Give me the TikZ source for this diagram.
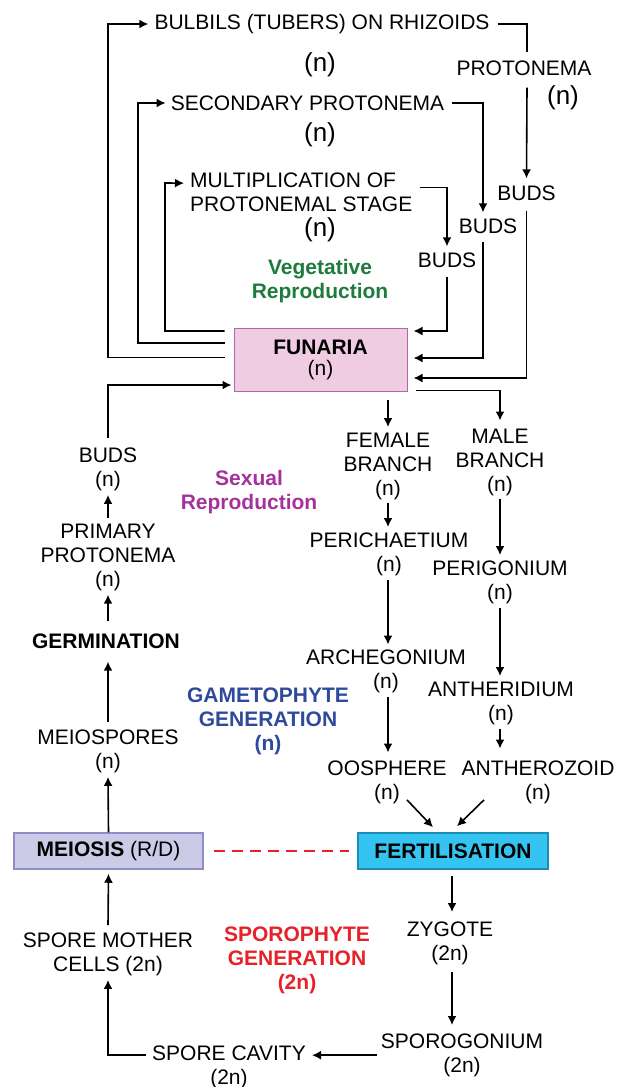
\documentclass[tikz,border=0pt]{standalone}
\usepackage{fontspec}
\setmainfont{Liberation Sans}
\usetikzlibrary{arrows.meta,calc}
\definecolor{veggreen}{HTML}{1E7B3E}
\definecolor{sexpurple}{HTML}{A5329C}
\definecolor{gameblue}{HTML}{2E4A9A}
\definecolor{sporored}{HTML}{E52229}
\definecolor{funfill}{HTML}{F0CCE2}
\definecolor{fundraw}{HTML}{B862AE}
\definecolor{meifill}{HTML}{CBCAE7}
\definecolor{meidraw}{HTML}{8F8CC6}
\definecolor{fertfill}{HTML}{35C4F1}
\definecolor{fertdraw}{HTML}{1A8DB4}
\begin{document}
\begin{tikzpicture}[x=1pt,y=-1pt,
  txt/.style={font=\fontsize{21}{24}\selectfont, align=center, inner sep=0pt},
  bign/.style={font=\fontsize{26}{28}\selectfont, inner sep=0pt},
  lbl/.style={font=\fontsize{21}{24}\selectfont\bfseries, align=center, inner sep=0pt},
  box/.style={draw, line width=1.5pt, inner sep=0pt, align=center, font=\fontsize{21}{21}\selectfont},
  arr/.style={line width=1.6pt, -{Latex[length=9pt,width=9pt]}},
  ln/.style={line width=1.6pt}
]
\path[use as bounding box] (0,0) rectangle (623,1087);

% ---- central plant ----
\node[box, fill=funfill, draw=fundraw, line width=1pt, minimum width=173pt, minimum height=63pt]
  (funaria) at (320.5,359.5) {\textbf{FUNARIA}\\(n)};

% ---- vegetative reproduction ----
\node[txt] (bulbils) at (322,24) {BULBILS (TUBERS) ON RHIZOIDS};
\node[bign] (nb) at (320,65) {(n)};
\node[txt] (proto) at (524,68) {PROTONEMA};
\node[bign] (np) at (563,98) {(n)};
\node[txt] (budsR) at (526.5,193) {BUDS};

\node[txt] (second) at (307.5,103) {SECONDARY PROTONEMA};
\node[bign] (ns) at (320,135) {(n)};
\node[txt] (budsM) at (488,226) {BUDS};

\node[txt, align=left, anchor=north west] (mult) at (190,172.5) {MULTIPLICATION OF\\PROTONEMAL STAGE};
\node[bign] (nm) at (320,230) {(n)};
\node[txt] (budsL) at (447,260) {BUDS};

\node[lbl, text=veggreen, anchor=north] (veg) at (320,259.5) {Vegetative\\Reproduction};

\coordinate (cB) at (108,24);
\coordinate (cS) at (138,103);
\coordinate (cM) at (165,183);

\draw[arr] ([shift={(-9,-2)}]funaria.west) -| (cB) -- ([xshift=-6]bulbils.west);
\draw[ln] ([xshift=8]bulbils.east) -| ([shift={(3,-8)}]proto.north);
\draw[arr] ([shift={(3,12)}]proto.south) -- ([shift={(0,-7)}]budsR.north);
\draw[arr] ([shift={(0,10)}]budsR.south) |- ([shift={(6,18.5)}]funaria.east);

\draw[arr] ([shift={(-9,-16.5)}]funaria.west) -| (cS) -- ([xshift=-5]second.west);
\draw[arr] ([xshift=8]second.east) -| ([shift={(-5,-6)}]budsM.north);
\draw[arr] ([shift={(-5,8)}]budsM.south) |- ([shift={(6,-1.5)}]funaria.east);

\draw[arr] ([shift={(-9,-28.5)}]funaria.west) -| (cM) -- ([shift={(-6,-9)}]mult.west);
\draw[arr] ([shift={(7,-4.5)}]mult.east) -| ([shift={(0,-6)}]budsL.north);
\draw[arr] ([shift={(0,9)}]budsL.south) |- ([shift={(6,-28.5)}]funaria.east);

% ---- sexual reproduction: female line ----
\node[txt, anchor=north] (female) at (388,432.5) {FEMALE\\BRANCH\\(n)};
\node[txt, anchor=north] (peri) at (389,532.5) {PERICHAETIUM\\(n)};
\node[txt, anchor=north] (arche) at (386,649.5) {ARCHEGONIUM\\(n)};
\node[txt, anchor=north] (oosph) at (387,760.5) {OOSPHERE\\(n)};

% ---- male line ----
\node[txt, anchor=north] (male) at (500,428.5) {MALE\\BRANCH\\(n)};
\node[txt, anchor=north] (perig) at (500,560.5) {PERIGONIUM\\(n)};
\node[txt, anchor=north] (anther) at (501,681.5) {ANTHERIDIUM\\(n)};
\node[txt, anchor=north] (antz) at (538,760.5) {ANTHEROZOID\\(n)};

\draw[arr] ([shift={(67.5,8)}]funaria.south) -- ([shift={(0,-5.5)}]female.north);
\draw[arr] ([shift={(8,-1)}]funaria.south east) -| ([shift={(0,-8)}]male.north);
\draw[arr] ([shift={(0,3)}]female.south) -- ($(female.south |- peri.north)+(0,-5.5)$);
\draw[arr] ([shift={(-1,4)}]peri.south) -- ($(peri.south |- arche.north)+(-1,-5)$);
\draw[arr] ([shift={(2,4)}]arche.south) -- ($(arche.south |- oosph.north)+(2,-8)$);
\draw[arr] ([shift={(0,3)}]male.south) -- ([shift={(0,-5.5)}]perig.north);
\draw[arr] ([shift={(0,4)}]perig.south) -- ($(perig.north |- anther.north)+(0,-5.5)$);
\draw[arr] ([shift={(-1,4)}]anther.south) -- ($(anther.south |- antz.north)+(-1,-12)$);

% ---- fertilisation and meiosis ----
\node[box, fill=fertfill, draw=fertdraw, minimum width=190pt, minimum height=36pt, font=\fontsize{21}{21}\selectfont\bfseries]
  (fert) at (453,851) {FERTILISATION};
\node[box, fill=meifill, draw=meidraw, minimum width=189pt, minimum height=36pt]
  (meiosis) at (108.5,851) {\textbf{MEIOSIS} (R/D)};
\draw[sporored, line width=2.8pt, dash pattern=on 11pt off 7pt] ([xshift=10]meiosis.east) -- ([xshift=-8]fert.west);

\draw[arr] ([shift={(20,-4)}]oosph.south) -- ([shift={(-20,-5)}]fert.north);
\draw[arr] ([shift={(-54,-4)}]antz.south) -- ([shift={(4,-6)}]fert.north);

% ---- sporophyte ----
\node[txt, anchor=north] (zyg) at (450,921.5) {ZYGOTE\\(2n)};
\node[txt, anchor=north] (sporog) at (462,1033.5) {SPOROGONIUM\\(2n)};
\node[txt, anchor=north] (spcav) at (229,1045.5) {SPORE CAVITY\\(2n)};
\node[txt, anchor=north] (sporem) at (108,932.5) {SPORE MOTHER\\CELLS (2n)};

\draw[arr] ([shift={(-1,6)}]fert.south) -- ($(fert.south |- zyg.north)+(-1,-9.5)$);
\draw[arr] ([shift={(2,7)}]zyg.south) -- ($(zyg.south |- sporog.north)+(2,-8.5)$);
\draw[arr] ([xshift=-4]sporog.west) -- ($(sporog.west -| spcav.east)+(6,0)$);
\draw[arr] ($(spcav.west |- sporog.west)+(-6,0)$) -| ([shift={(0,4)}]sporem.south);
\draw[arr] ([shift={(0,-7.5)}]sporem.north) -- ([shift={(0,4)}]meiosis.south);

% ---- gametophyte from meiospores ----
\node[txt, anchor=north] (meiosp) at (108,729.5) {MEIOSPORES\\(n)};
\node[lbl] (germ) at (106,641) {GERMINATION};
\node[txt, anchor=north] (prim) at (108,523.5) {PRIMARY\\PROTONEMA\\(n)};
\node[txt, anchor=north] (budsB) at (108,447.5) {BUDS\\(n)};

\draw[arr] (meiosis.north) -- ([shift={(0,4)}]meiosp.south);
\draw[arr] ([shift={(0,-8)}]meiosp.north) -- ([shift={(2,13)}]germ.south);
\draw[arr] ([shift={(2,-12)}]germ.north) -- ([shift={(0,4)}]prim.south);
\draw[arr] ([shift={(0,-5.5)}]prim.north) -- ([shift={(0,4)}]budsB.south);
\draw[arr] ([shift={(0,-9.5)}]budsB.north) |- ([shift={(-2,25.5)}]funaria.west);

% ---- generation labels ----
\node[lbl, text=sexpurple, anchor=north] (sexual) at (249,470.5) {Sexual\\Reproduction};
\node[lbl, text=gameblue, anchor=north] (gameto) at (268,687.5) {GAMETOPHYTE\\GENERATION\\(n)};
\node[lbl, text=sporored, anchor=north] (sporo) at (297,926.5) {SPOROPHYTE\\GENERATION\\(2n)};
\end{tikzpicture}
\end{document}
